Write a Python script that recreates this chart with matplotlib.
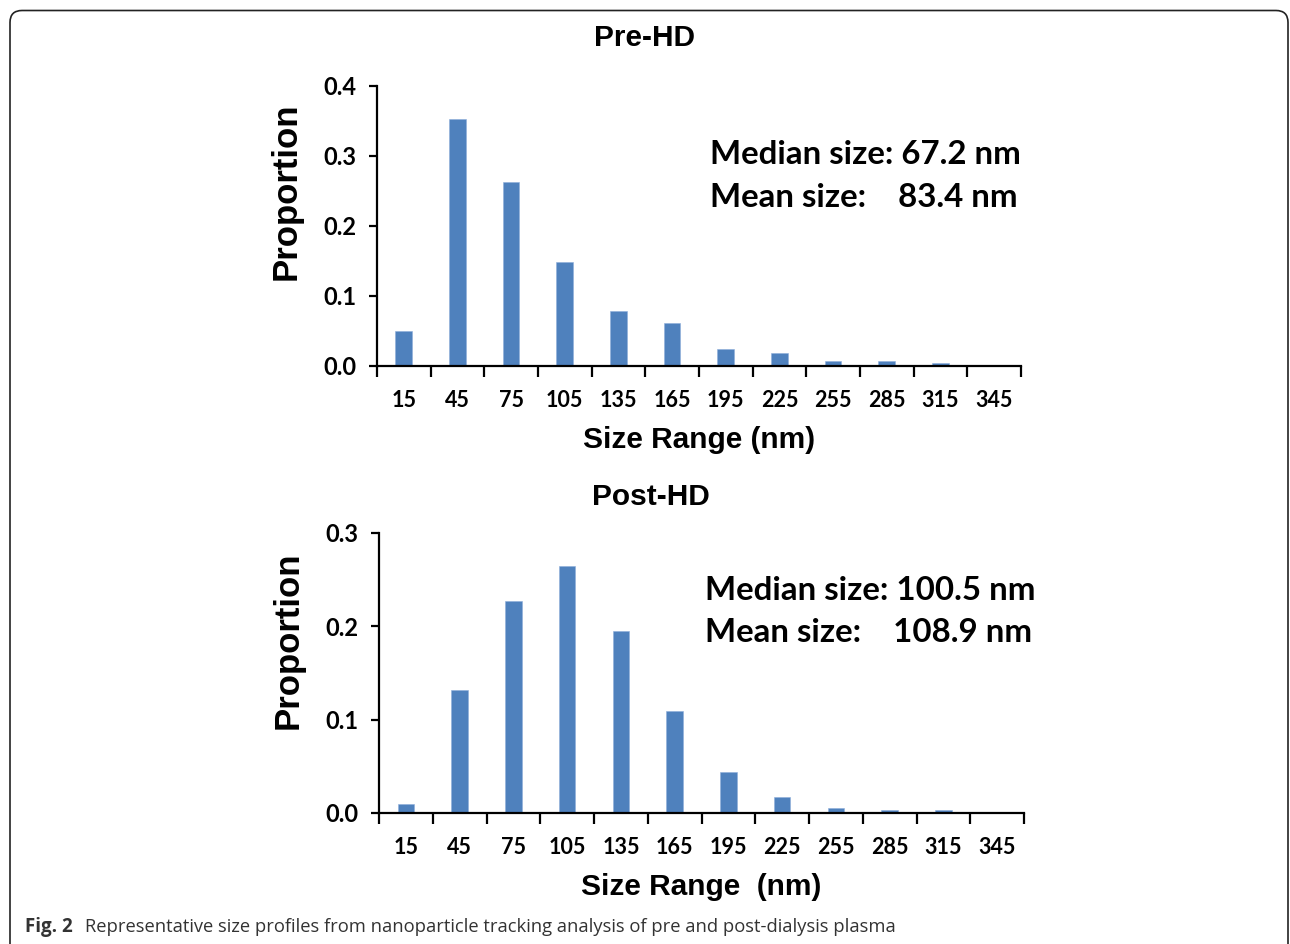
import matplotlib.pyplot as plt
from matplotlib.patches import FancyBboxPatch
from matplotlib.ticker import FixedLocator, FormatStrFormatter

# size bins (nm)
sizes = ['15', '45', '75', '105', '135', '165', '195', '225', '255', '285', '315', '345']

pre_hd = [0.050, 0.353, 0.263, 0.149, 0.079, 0.061, 0.024, 0.019, 0.007, 0.007, 0.004, 0.0]
post_hd = [0.010, 0.132, 0.227, 0.265, 0.195, 0.109, 0.044, 0.017, 0.005, 0.003, 0.003, 0.0]

pre_text = ['Median size: 67.2 nm', 'Mean size:    83.4 nm']
post_text = ['Median size: 100.5 nm', 'Mean size:    108.9 nm']

BAR = '#4F81BD'
LBL = 'Liberation Sans'
NUM = 'Lato'

fig = plt.figure(figsize=(12.9, 9.44), dpi=100)

# rounded frame around the figure
frame = FancyBboxPatch((0.10, -0.5), 12.78, 9.835, boxstyle='round,pad=0,rounding_size=0.12',
                       transform=fig.dpi_scale_trans, fill=False, edgecolor='#222222', linewidth=1.2)
fig.patches.append(frame)


def draw_panel(rect, values, ymax, title, title_xy, xlabel, notes, note_xy, ylabel_y):
    ax = fig.add_axes(rect)
    x = range(len(sizes))
    ax.bar(x, values, width=0.31, color=BAR, edgecolor='#8eaedb', linewidth=0.4)
    ax.set_xlim(-0.5, len(sizes) - 0.5)
    ax.set_ylim(0, ymax)
    ax.spines['top'].set_visible(False)
    ax.spines['right'].set_visible(False)
    for s in ('left', 'bottom'):
        ax.spines[s].set_linewidth(1.6)

    ax.set_xticks(list(x))
    ax.set_xticklabels(sizes, fontfamily=NUM, fontweight='bold', fontsize=15.5)
    ax.tick_params(axis='x', which='major', length=0, pad=17)
    ax.xaxis.set_minor_locator(FixedLocator([i - 0.5 for i in range(len(sizes) + 1)]))
    ax.tick_params(axis='x', which='minor', length=8, width=1.6, direction='out')

    ticks = [i / 10 for i in range(int(round(ymax * 10)) + 1)]
    ax.set_yticks(ticks)
    ax.yaxis.set_major_formatter(FormatStrFormatter('%.1f'))
    for t in ax.get_yticklabels():
        t.set_fontfamily(NUM)
        t.set_fontweight('bold')
        t.set_fontsize(17)
    ax.tick_params(axis='y', length=6, width=1.6, direction='out', pad=9)

    ax.set_ylabel('Proportion', fontfamily=LBL, fontweight='bold', fontsize=25)
    ax.yaxis.set_label_coords(-0.115, ylabel_y)
    ax.set_xlabel(xlabel, fontfamily=LBL, fontweight='bold', fontsize=21.5)
    ax.xaxis.set_label_coords(0.5, -0.215)

    fig.text(title_xy[0], title_xy[1], title, ha='center', va='center',
             fontfamily=LBL, fontweight='bold', fontsize=21.5)

    ax.text(note_xy[0], note_xy[1], notes[0], transform=ax.transAxes, ha='left', va='center',
            fontfamily=NUM, fontweight='bold', fontsize=23.8)
    ax.text(note_xy[0], note_xy[2], notes[1], transform=ax.transAxes, ha='left', va='center',
            fontfamily=NUM, fontweight='bold', fontsize=23.8)
    return ax


draw_panel([0.2922, 0.6123, 0.4992, 0.2966], pre_hd, 0.4, 'Pre-HD', (645 / 1290, 1 - 38 / 944),
           'Size Range (nm)', pre_text, (0.517, 0.754, 0.60), 0.625)
draw_panel([0.2938, 0.1388, 0.5, 0.2966], post_hd, 0.3, 'Post-HD', (651 / 1290, 1 - 497 / 944),
           'Size Range  (nm)', post_text, (0.505, 0.796, 0.646), 0.618)

# caption
fig.text(25 / 1290, 1 - 927 / 944, 'Fig. 2', ha='left', va='center',
         fontfamily='Open Sans', fontweight='bold', fontsize=13.5, color='#333333')
fig.text(85 / 1290, 1 - 927 / 944,
         'Representative size profiles from nanoparticle tracking analysis of pre and post-dialysis plasma',
         ha='left', va='center', fontfamily='Open Sans', fontsize=13.2, color='#333333')

fig.savefig('out.png', dpi=100)
